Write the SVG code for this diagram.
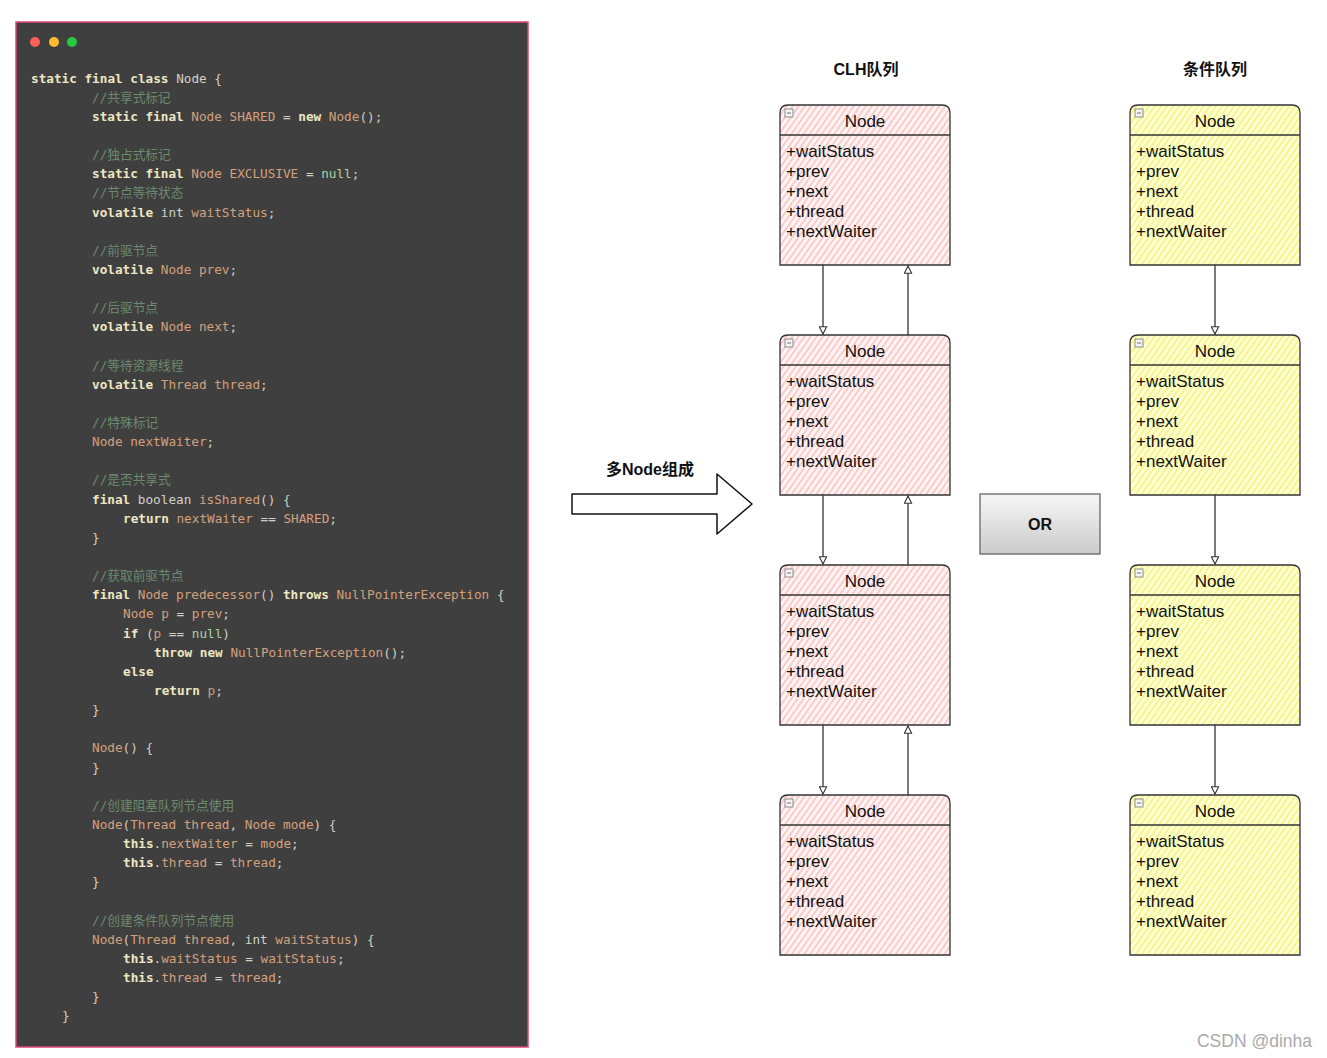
<svg xmlns="http://www.w3.org/2000/svg" width="1327" height="1058" viewBox="0 0 1327 1058">
<defs>
<pattern id="pinkHatch" width="5" height="5" patternUnits="userSpaceOnUse" patternTransform="rotate(35)">
<rect width="5" height="5" fill="#fff4f4"/>
<line x1="1" y1="0" x2="1" y2="5" stroke="#f6b6b4" stroke-width="1.3"/>
</pattern>
<pattern id="yellowHatch" width="5" height="5" patternUnits="userSpaceOnUse" patternTransform="rotate(35)">
<rect width="5" height="5" fill="#ffffd8"/>
<line x1="1" y1="0" x2="1" y2="5" stroke="#f4f060" stroke-width="1.3"/>
</pattern>
<linearGradient id="orGrad" x1="0" y1="0" x2="0" y2="1">
<stop offset="0" stop-color="#f6f6f6"/>
<stop offset="1" stop-color="#cbcbcb"/>
</linearGradient>
<marker id="arr" viewBox="0 0 10 10" refX="9" refY="5" markerWidth="9" markerHeight="9" markerUnits="userSpaceOnUse" orient="auto">
<path d="M1,1 L9,5 L1,9 Z" fill="#ffffff" stroke="#333" stroke-width="1.2"/>
</marker>
</defs>
<style>
.code text{font-family:"DejaVu Sans Mono","Noto Sans CJK SC",monospace;font-size:12.7px;fill:#d2d0c4;white-space:pre}
.k{font-weight:bold;fill:#ede6c2}
.i{fill:#d4a07c}
.c{fill:#6b8a70}
.n{fill:#a8d4a4}
.shape{stroke:#333;stroke-width:1.3}
.pink{fill:url(#pinkHatch)}
.yel{fill:url(#yellowHatch)}
.hdr{font-family:"Liberation Sans",Arial,sans-serif;font-size:17px;fill:#111;text-anchor:middle}
.fld{font-family:"Liberation Sans",Arial,sans-serif;font-size:17px;fill:#111}
.div{stroke:#333;stroke-width:1.3}
.mini{fill:#f4f4f4;stroke:#777;stroke-width:0.8}
.conn{stroke:#333;stroke-width:1.3;fill:none;marker-end:url(#arr)}
.title{font-family:"Liberation Sans","Noto Sans CJK SC",sans-serif;font-size:16px;font-weight:bold;fill:#111;text-anchor:middle}
</style>
<rect width="1327" height="1058" fill="#ffffff"/>

<g id="codePanel">
<rect x="16" y="22" width="512" height="1025" fill="#3f3f3f" stroke="#e0457b" stroke-width="1.5"/>
<circle cx="35" cy="42" r="5" fill="#fe5f57"/>
<circle cx="54" cy="42" r="5" fill="#febc2e"/>
<circle cx="72" cy="42" r="5" fill="#28c840"/>
<g class="code" xml:space="preserve">
<text x="31" y="82.5"><tspan class="k">static final class</tspan> Node {</text>
<text x="92" y="101.6"><tspan class="c">//共享式标记</tspan></text>
<text x="92" y="120.8"><tspan class="k">static final</tspan> <tspan class="i">Node SHARED</tspan> = <tspan class="k">new</tspan> <tspan class="i">Node</tspan>();</text>
<text x="92" y="159.1"><tspan class="c">//独占式标记</tspan></text>
<text x="92" y="178.2"><tspan class="k">static final</tspan> <tspan class="i">Node EXCLUSIVE</tspan> = <tspan class="n">null</tspan>;</text>
<text x="92" y="197.3"><tspan class="c">//节点等待状态</tspan></text>
<text x="92" y="216.5"><tspan class="k">volatile</tspan> int <tspan class="i">waitStatus</tspan>;</text>
<text x="92" y="254.8"><tspan class="c">//前驱节点</tspan></text>
<text x="92" y="273.9"><tspan class="k">volatile</tspan> <tspan class="i">Node prev</tspan>;</text>
<text x="92" y="312.2"><tspan class="c">//后驱节点</tspan></text>
<text x="92" y="331.3"><tspan class="k">volatile</tspan> <tspan class="i">Node next</tspan>;</text>
<text x="92" y="369.6"><tspan class="c">//等待资源线程</tspan></text>
<text x="92" y="388.7"><tspan class="k">volatile</tspan> <tspan class="i">Thread thread</tspan>;</text>
<text x="92" y="427.0"><tspan class="c">//特殊标记</tspan></text>
<text x="92" y="446.2"><tspan class="i">Node nextWaiter</tspan>;</text>
<text x="92" y="484.4"><tspan class="c">//是否共享式</tspan></text>
<text x="92" y="503.6"><tspan class="k">final</tspan> boolean <tspan class="i">isShared</tspan>() {</text>
<text x="123" y="522.7"><tspan class="k">return</tspan> <tspan class="i">nextWaiter</tspan> == <tspan class="i">SHARED</tspan>;</text>
<text x="92" y="541.9">}</text>
<text x="92" y="580.1"><tspan class="c">//获取前驱节点</tspan></text>
<text x="92" y="599.3"><tspan class="k">final</tspan> <tspan class="i">Node predecessor</tspan>() <tspan class="k">throws</tspan> <tspan class="i">NullPointerException</tspan> {</text>
<text x="123" y="618.4"><tspan class="i">Node p</tspan> = <tspan class="i">prev</tspan>;</text>
<text x="123" y="637.6"><tspan class="k">if</tspan> (<tspan class="i">p</tspan> == <tspan class="n">null</tspan>)</text>
<text x="154" y="656.7"><tspan class="k">throw new</tspan> <tspan class="i">NullPointerException</tspan>();</text>
<text x="123" y="675.8"><tspan class="k">else</tspan></text>
<text x="154" y="695.0"><tspan class="k">return</tspan> <tspan class="i">p</tspan>;</text>
<text x="92" y="714.1">}</text>
<text x="92" y="752.4"><tspan class="i">Node</tspan>() {</text>
<text x="92" y="771.5">}</text>
<text x="92" y="809.8"><tspan class="c">//创建阻塞队列节点使用</tspan></text>
<text x="92" y="829.0"><tspan class="i">Node</tspan>(<tspan class="i">Thread thread</tspan>, <tspan class="i">Node mode</tspan>) {</text>
<text x="123" y="848.1"><tspan class="k">this</tspan>.<tspan class="i">nextWaiter</tspan> = <tspan class="i">mode</tspan>;</text>
<text x="123" y="867.2"><tspan class="k">this</tspan>.<tspan class="i">thread</tspan> = <tspan class="i">thread</tspan>;</text>
<text x="92" y="886.4">}</text>
<text x="92" y="924.7"><tspan class="c">//创建条件队列节点使用</tspan></text>
<text x="92" y="943.8"><tspan class="i">Node</tspan>(<tspan class="i">Thread thread</tspan>, int <tspan class="i">waitStatus</tspan>) {</text>
<text x="123" y="962.9"><tspan class="k">this</tspan>.<tspan class="i">waitStatus</tspan> = <tspan class="i">waitStatus</tspan>;</text>
<text x="123" y="982.1"><tspan class="k">this</tspan>.<tspan class="i">thread</tspan> = <tspan class="i">thread</tspan>;</text>
<text x="92" y="1001.2">}</text>
<text x="62" y="1020.4">}</text>
</g>
</g>

<g id="titles">
<text class="title" x="866" y="75">CLH队列</text>
<text class="title" x="1215" y="75">条件队列</text>
</g>

<g id="clh1" transform="translate(780,105)">
<path class="shape pink" d="M0,160 V8 Q0,0 8,0 H162 Q170,0 170,8 V160 Z"/>
<line class="div" x1="0" y1="30" x2="170" y2="30"/>
<rect class="mini" x="5" y="4" width="8" height="8"/><line x1="7" y1="8" x2="11" y2="8" stroke="#555" stroke-width="0.8"/>
<text class="hdr" x="85" y="22">Node</text>
<text class="fld" x="6" y="52">+waitStatus</text><text class="fld" x="6" y="72">+prev</text><text class="fld" x="6" y="92">+next</text><text class="fld" x="6" y="112">+thread</text><text class="fld" x="6" y="132">+nextWaiter</text>
</g>
<g id="clh2" transform="translate(780,335)">
<path class="shape pink" d="M0,160 V8 Q0,0 8,0 H162 Q170,0 170,8 V160 Z"/>
<line class="div" x1="0" y1="30" x2="170" y2="30"/>
<rect class="mini" x="5" y="4" width="8" height="8"/><line x1="7" y1="8" x2="11" y2="8" stroke="#555" stroke-width="0.8"/>
<text class="hdr" x="85" y="22">Node</text>
<text class="fld" x="6" y="52">+waitStatus</text><text class="fld" x="6" y="72">+prev</text><text class="fld" x="6" y="92">+next</text><text class="fld" x="6" y="112">+thread</text><text class="fld" x="6" y="132">+nextWaiter</text>
</g>
<g id="clh3" transform="translate(780,565)">
<path class="shape pink" d="M0,160 V8 Q0,0 8,0 H162 Q170,0 170,8 V160 Z"/>
<line class="div" x1="0" y1="30" x2="170" y2="30"/>
<rect class="mini" x="5" y="4" width="8" height="8"/><line x1="7" y1="8" x2="11" y2="8" stroke="#555" stroke-width="0.8"/>
<text class="hdr" x="85" y="22">Node</text>
<text class="fld" x="6" y="52">+waitStatus</text><text class="fld" x="6" y="72">+prev</text><text class="fld" x="6" y="92">+next</text><text class="fld" x="6" y="112">+thread</text><text class="fld" x="6" y="132">+nextWaiter</text>
</g>
<g id="clh4" transform="translate(780,795)">
<path class="shape pink" d="M0,160 V8 Q0,0 8,0 H162 Q170,0 170,8 V160 Z"/>
<line class="div" x1="0" y1="30" x2="170" y2="30"/>
<rect class="mini" x="5" y="4" width="8" height="8"/><line x1="7" y1="8" x2="11" y2="8" stroke="#555" stroke-width="0.8"/>
<text class="hdr" x="85" y="22">Node</text>
<text class="fld" x="6" y="52">+waitStatus</text><text class="fld" x="6" y="72">+prev</text><text class="fld" x="6" y="92">+next</text><text class="fld" x="6" y="112">+thread</text><text class="fld" x="6" y="132">+nextWaiter</text>
</g>

<g id="cond1" transform="translate(1130,105)">
<path class="shape yel" d="M0,160 V8 Q0,0 8,0 H162 Q170,0 170,8 V160 Z"/>
<line class="div" x1="0" y1="30" x2="170" y2="30"/>
<rect class="mini" x="5" y="4" width="8" height="8"/><line x1="7" y1="8" x2="11" y2="8" stroke="#555" stroke-width="0.8"/>
<text class="hdr" x="85" y="22">Node</text>
<text class="fld" x="6" y="52">+waitStatus</text><text class="fld" x="6" y="72">+prev</text><text class="fld" x="6" y="92">+next</text><text class="fld" x="6" y="112">+thread</text><text class="fld" x="6" y="132">+nextWaiter</text>
</g>
<g id="cond2" transform="translate(1130,335)">
<path class="shape yel" d="M0,160 V8 Q0,0 8,0 H162 Q170,0 170,8 V160 Z"/>
<line class="div" x1="0" y1="30" x2="170" y2="30"/>
<rect class="mini" x="5" y="4" width="8" height="8"/><line x1="7" y1="8" x2="11" y2="8" stroke="#555" stroke-width="0.8"/>
<text class="hdr" x="85" y="22">Node</text>
<text class="fld" x="6" y="52">+waitStatus</text><text class="fld" x="6" y="72">+prev</text><text class="fld" x="6" y="92">+next</text><text class="fld" x="6" y="112">+thread</text><text class="fld" x="6" y="132">+nextWaiter</text>
</g>
<g id="cond3" transform="translate(1130,565)">
<path class="shape yel" d="M0,160 V8 Q0,0 8,0 H162 Q170,0 170,8 V160 Z"/>
<line class="div" x1="0" y1="30" x2="170" y2="30"/>
<rect class="mini" x="5" y="4" width="8" height="8"/><line x1="7" y1="8" x2="11" y2="8" stroke="#555" stroke-width="0.8"/>
<text class="hdr" x="85" y="22">Node</text>
<text class="fld" x="6" y="52">+waitStatus</text><text class="fld" x="6" y="72">+prev</text><text class="fld" x="6" y="92">+next</text><text class="fld" x="6" y="112">+thread</text><text class="fld" x="6" y="132">+nextWaiter</text>
</g>
<g id="cond4" transform="translate(1130,795)">
<path class="shape yel" d="M0,160 V8 Q0,0 8,0 H162 Q170,0 170,8 V160 Z"/>
<line class="div" x1="0" y1="30" x2="170" y2="30"/>
<rect class="mini" x="5" y="4" width="8" height="8"/><line x1="7" y1="8" x2="11" y2="8" stroke="#555" stroke-width="0.8"/>
<text class="hdr" x="85" y="22">Node</text>
<text class="fld" x="6" y="52">+waitStatus</text><text class="fld" x="6" y="72">+prev</text><text class="fld" x="6" y="92">+next</text><text class="fld" x="6" y="112">+thread</text><text class="fld" x="6" y="132">+nextWaiter</text>
</g>

<g id="connectors">
<path class="conn" d="M823,265 V334"/>
<path class="conn" d="M908,335 V266"/>
<path class="conn" d="M823,495 V564"/>
<path class="conn" d="M908,565 V496"/>
<path class="conn" d="M823,725 V794"/>
<path class="conn" d="M908,795 V726"/>
<path class="conn" d="M1215,265 V334"/>
<path class="conn" d="M1215,495 V564"/>
<path class="conn" d="M1215,725 V794"/>
</g>

<g id="bigArrow">
<path d="M572,494 L717,494 L717,474 L752,504 L717,534 L717,514 L572,514 Z" fill="#ffffff" stroke="#111" stroke-width="1.5" stroke-linejoin="round"/>
<text class="title" x="650" y="475">多Node组成</text>
</g>

<g id="orBox">
<rect x="980" y="494" width="120" height="60" fill="url(#orGrad)" stroke="#666" stroke-width="1.3"/>
<text class="title" x="1040" y="530">OR</text>
</g>

<text x="1312" y="1047" font-family="Liberation Sans,Arial,sans-serif" font-size="17.5" fill="#aaaaaa" text-anchor="end">CSDN @dinha</text>
</svg>
